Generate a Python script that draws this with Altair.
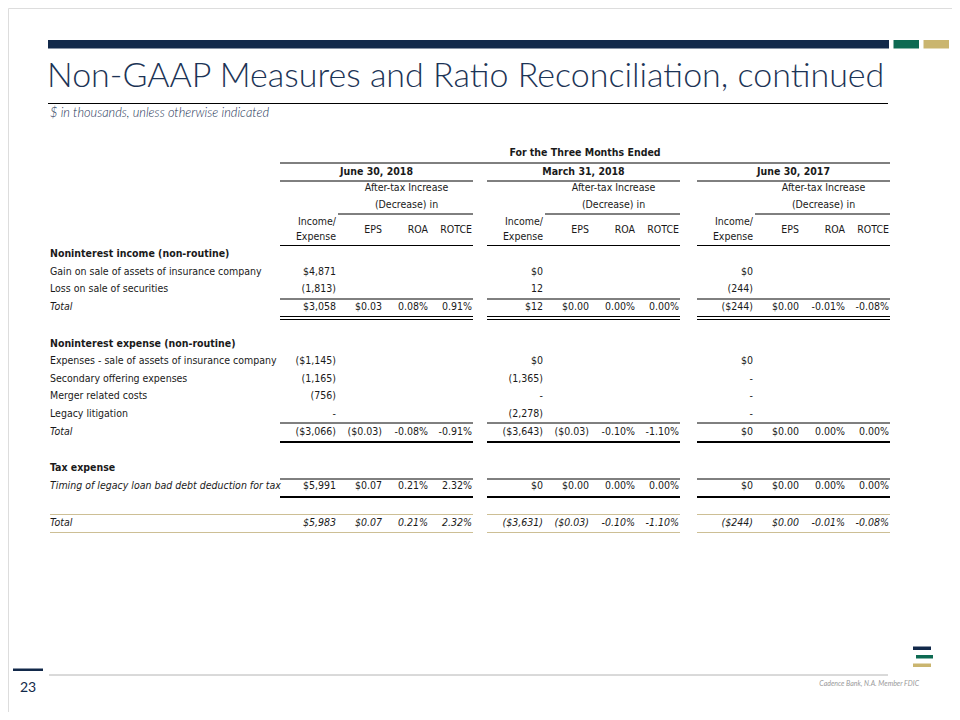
import altair as alt
import pandas as pd

# ---------------- data ----------------
title = "Non-GAAP Measures and Ratio Reconciliation, continued"
subtitle = "$ in thousands, unless otherwise indicated"
super_header = "For the Three Months Ended"
periods = ["June 30, 2018", "March 31, 2018", "June 30, 2017"]
sub_header = ["After-tax Increase", "(Decrease) in"]
col_heads = ["EPS", "ROA", "ROTCE"]
inc_head = ["Income/", "Expense"]

row_labels = [
    "Noninterest income (non-routine)",
    "Gain on sale of assets of insurance company",
    "Loss on sale of securities",
    "Total",
    "Noninterest expense (non-routine)",
    "Expenses - sale of assets of insurance company",
    "Secondary offering expenses",
    "Merger related costs",
    "Legacy litigation",
    "Total",
    "Tax expense",
    "Timing of legacy loan bad debt deduction for tax",
    "Total",
]
row_kind = ["head", "item", "item", "total", "head", "item", "item", "item", "item",
            "total", "head", "itemi", "grand"]

income = {
    "June 30, 2018": ["", "$4,871", "(1,813)", "$3,058", "", "($1,145)", "(1,165)", "(756)", "-", "($3,066)", "", "$5,991", "$5,983"],
    "March 31, 2018": ["", "$0", "12", "$12", "", "$0", "(1,365)", "-", "(2,278)", "($3,643)", "", "$0", "($3,631)"],
    "June 30, 2017": ["", "$0", "(244)", "($244)", "", "$0", "-", "-", "-", "$0", "", "$0", "($244)"],
}
eps = {
    "June 30, 2018": ["", "", "", "$0.03", "", "", "", "", "", "($0.03)", "", "$0.07", "$0.07"],
    "March 31, 2018": ["", "", "", "$0.00", "", "", "", "", "", "($0.03)", "", "$0.00", "($0.03)"],
    "June 30, 2017": ["", "", "", "$0.00", "", "", "", "", "", "$0.00", "", "$0.00", "$0.00"],
}
roa = {
    "June 30, 2018": ["", "", "", "0.08%", "", "", "", "", "", "-0.08%", "", "0.21%", "0.21%"],
    "March 31, 2018": ["", "", "", "0.00%", "", "", "", "", "", "-0.10%", "", "0.00%", "-0.10%"],
    "June 30, 2017": ["", "", "", "-0.01%", "", "", "", "", "", "0.00%", "", "0.00%", "-0.01%"],
}
rotce = {
    "June 30, 2018": ["", "", "", "0.91%", "", "", "", "", "", "-0.91%", "", "2.32%", "2.32%"],
    "March 31, 2018": ["", "", "", "0.00%", "", "", "", "", "", "-1.10%", "", "0.00%", "-1.10%"],
    "June 30, 2017": ["", "", "", "-0.08%", "", "", "", "", "", "0.00%", "", "0.00%", "-0.08%"],
}
page_number = "23"
footer = "Cadence Bank, N.A. Member FDIC"

# ---------------- layout ----------------
NAVY = "#12294a"
GREEN = "#0d6a52"
GOLD = "#cab56f"
TXT = "#1a1a1a"
TFONT = "DejaVu Sans Condensed, Liberation Sans, sans-serif"
HFONT = "Lato, Open Sans, sans-serif"
TS = 10.5

label_x = 50
group_starts = [280, 487, 697]
group_w = 193
col_off = [56, 102, 148, 192]
row_y = [254, 272, 289, 307, 344, 361, 379, 396, 414, 432, 468, 486, 523]

texts = []  # x, y, text, kind


def add(x, y, t, k):
    texts.append({"x": x, "y": y, "text": t, "kind": k})


add(47, 77, title, "title")
add(50, 113, subtitle, "subtitle")
add((group_starts[0] + group_starts[2] + group_w) / 2, 153, super_header, "hb")
for g, p in enumerate(periods):
    s = group_starts[g]
    add(s + group_w / 2, 172, p, "hb")
    add(s + (col_off[0] + 2 + group_w) / 2 + 1, 188, sub_header[0], "hc")
    add(s + (col_off[0] + 2 + group_w) / 2 + 1, 205, sub_header[1], "hc")
    add(s + col_off[0], 222, inc_head[0], "hr")
    add(s + col_off[0], 237, inc_head[1], "hr")
    for j, c in enumerate(col_heads):
        add(s + col_off[j + 1], 230, c, "hr")
    for i, y in enumerate(row_y):
        k = "vi" if row_kind[i] == "grand" else "v"
        for j, src in enumerate([income, eps, roa, rotce]):
            v = src[p][i]
            if v:
                add(s + col_off[j], y, v, k)
for i, (lab, y) in enumerate(zip(row_labels, row_y)):
    kd = row_kind[i]
    k = {"head": "lb", "item": "l", "total": "li", "itemi": "li", "grand": "li"}[kd]
    add(label_x, y, lab, k)
add(28, 688, page_number, "page")
add(919, 684, footer, "footer")

tdf = pd.DataFrame(texts)

styles = {
    "title": dict(align="left", baseline="middle", font=HFONT, fontSize=34, fontWeight=300, color="#1c3456"),
    "subtitle": dict(align="left", baseline="middle", font=HFONT, fontSize=12.8, fontStyle="italic", fontWeight=300, color="#1c3456"),
    "hb": dict(align="center", baseline="middle", font=TFONT, fontSize=TS, fontWeight="bold", color=TXT),
    "hc": dict(align="center", baseline="middle", font=TFONT, fontSize=TS, color=TXT),
    "hr": dict(align="right", baseline="middle", font=TFONT, fontSize=TS, color=TXT),
    "v": dict(align="right", baseline="middle", font=TFONT, fontSize=TS, color=TXT),
    "vi": dict(align="right", baseline="middle", font=TFONT, fontSize=TS, fontStyle="italic", color=TXT),
    "l": dict(align="left", baseline="middle", font=TFONT, fontSize=TS, color=TXT),
    "lb": dict(align="left", baseline="middle", font=TFONT, fontSize=TS, fontWeight="bold", color=TXT),
    "li": dict(align="left", baseline="middle", font=TFONT, fontSize=TS, fontStyle="italic", color=TXT),
    "page": dict(align="center", baseline="middle", font=HFONT, fontSize=14, color=NAVY),
    "footer": dict(align="right", baseline="middle", font=HFONT, fontSize=7, fontStyle="italic", color="#9a9a9a"),
}

X = alt.X("x:Q", scale=alt.Scale(domain=[8, 952], nice=False, zero=False), axis=None)
Y = alt.Y("y:Q", scale=alt.Scale(domain=[8, 712], nice=False, zero=False, reverse=True), axis=None)

# rules
rules = []  # x, x2, y, kind


def rule(x, x2, y, k):
    rules.append({"x": x, "x2": x2, "y": y, "kind": k})


rule(group_starts[0], group_starts[2] + group_w, 163, "thin")
rule(48, 888, 103.5, "thin")
for s in group_starts:
    e = s + group_w
    rule(s, e, 181, "thin")
    rule(s + col_off[0] + 2, e, 214, "thin")
    rule(s, e, 245.5, "thin")
    rule(s, e, 299, "thin")
    rule(s, e, 316.5, "thin")
    rule(s, e, 319.5, "thin")
    rule(s, e, 423, "thin")
    rule(s, e, 442, "thick")
    rule(s, e, 479, "thin")
    rule(s, e, 497, "thick")
    x0 = label_x if s == group_starts[0] else s
    rule(x0, e, 514.5, "gold")
    rule(x0, e, 532.5, "gold")
rule(49, 888, 675, "gray")
rdf = pd.DataFrame(rules)
rule_styles = {
    "thin": dict(color="#000000", strokeWidth=1),
    "thick": dict(color="#000000", strokeWidth=2),
    "gold": dict(color="#cdbf95", strokeWidth=1),
    "gray": dict(color="#b4b4b4", strokeWidth=1),
}

# rects (decor)
rects = pd.DataFrame([
    {"x": 48, "x2": 889, "y": 40, "y2": 48.5, "c": NAVY},
    {"x": 893.5, "x2": 919, "y": 40, "y2": 48.5, "c": GREEN},
    {"x": 923.5, "x2": 949, "y": 40, "y2": 48.5, "c": GOLD},
    {"x": 913, "x2": 931, "y": 646.5, "y2": 650, "c": NAVY},
    {"x": 916, "x2": 933, "y": 655, "y2": 658.5, "c": GREEN},
    {"x": 913, "x2": 931, "y": 663.5, "y2": 667, "c": GOLD},
    {"x": 13, "x2": 43, "y": 668.5, "y2": 671, "c": NAVY},
])

layers = []
layers.append(
    alt.Chart(rects).mark_rect().encode(
        x=X, x2="x2:Q", y=Y, y2="y2:Q",
        color=alt.Color("c:N", scale=None),
    )
)
for k, st in rule_styles.items():
    layers.append(
        alt.Chart(rdf[rdf.kind == k]).mark_rule(**st).encode(x=X, x2="x2:Q", y=Y)
    )
for k, st in styles.items():
    sub = tdf[tdf.kind == k]
    if len(sub):
        layers.append(alt.Chart(sub).mark_text(**st).encode(x=X, y=Y, text="text:N"))

chart = alt.layer(*layers).properties(
    width=944, height=704, padding=0,
    autosize=alt.AutoSizeParams(type="none"),
).configure_view(stroke=None).configure(background="#ffffff")

chart.save("out.html", embed_options={"renderer": "svg", "actions": False})
